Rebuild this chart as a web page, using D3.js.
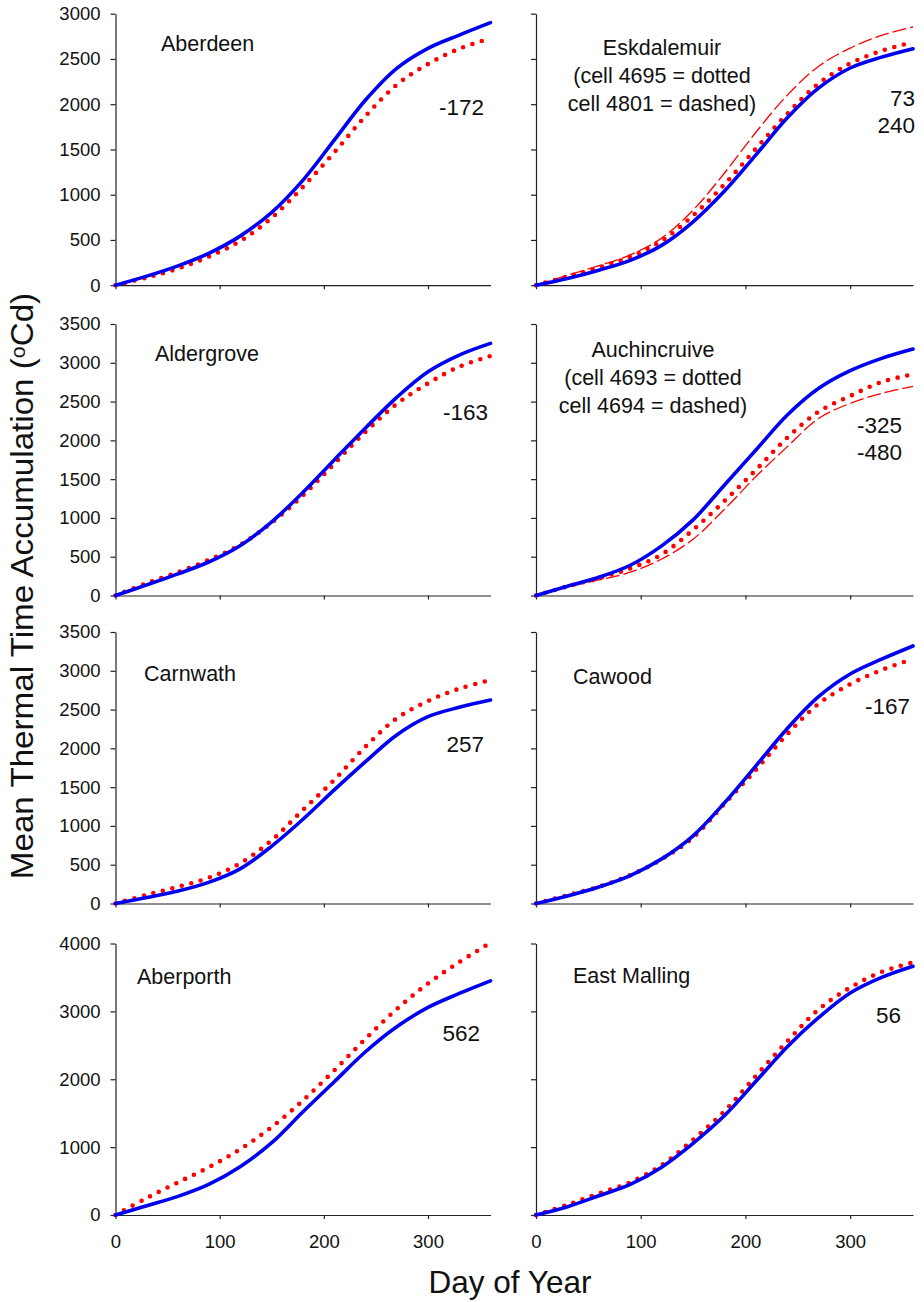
<!DOCTYPE html>
<html>
<head>
<meta charset="utf-8">
<script src="https://cdn.jsdelivr.net/npm/d3@7"></script>
<style>
body { margin: 0; background: #fff; }
svg text { font-family: "Liberation Sans", Arial, Helvetica, sans-serif; fill: #111; }
.axis path, .axis line { stroke: #222; stroke-width: 1.2; }
.axis text { font-size: 18.5px; fill: #111; }
</style>
</head>
<body>
<div id="chart-area"></div>
<script>
// Day of year at which the curves were read
var days = [0, 30, 60, 90, 120, 150, 180, 210, 240, 270, 300, 330, 360];

// solid blue = station, dotted red = grid cell, dashed red = second cell
var aberdeenStation = [0, 100, 214, 355, 545, 805, 1161, 1603, 2046, 2396, 2617, 2764, 2901];
var aberdeenCell    = [0, 85, 184, 318, 490, 745, 1087, 1467, 1869, 2215, 2444, 2613, 2729];

var eskdalemuirStation = [0, 74, 166, 275, 440, 700, 1040, 1440, 1850, 2180, 2400, 2520, 2613];
var eskdalemuirCell    = [0, 95, 195, 315, 490, 770, 1115, 1509, 1895, 2230, 2450, 2590, 2686];
var eskdalemuirCell2   = [0, 110, 215, 335, 520, 830, 1240, 1690, 2100, 2420, 2620, 2760, 2853];

var aldergroveStation = [0, 137, 279, 435, 645, 950, 1330, 1748, 2160, 2555, 2885, 3100, 3250];
var aldergroveCell    = [0, 159, 300, 462, 655, 940, 1290, 1700, 2110, 2470, 2735, 2950, 3087];

var auchincruiveStation = [0, 120, 235, 390, 640, 975, 1425, 1876, 2327, 2671, 2898, 3057, 3177];
var auchincruiveCell    = [0, 118, 223, 350, 530, 846, 1219, 1619, 2035, 2370, 2572, 2752, 2852];
var auchincruiveCell2   = [0, 112, 200, 300, 470, 726, 1112, 1533, 1919, 2284, 2477, 2606, 2697];

var carnwathStation = [0, 77, 160, 275, 450, 740, 1086, 1464, 1829, 2173, 2409, 2529, 2623];
var carnwathCell    = [0, 112, 215, 335, 520, 816, 1207, 1593, 2022, 2387, 2610, 2769, 2880];

var cawoodStation = [0, 98, 213, 360, 575, 873, 1298, 1775, 2256, 2669, 2959, 3150, 3320];
var cawoodCell    = [0, 106, 217, 365, 570, 851, 1286, 1724, 2184, 2576, 2827, 3010, 3153];

var aberporthStation = [0, 137, 275, 455, 715, 1065, 1521, 1963, 2405, 2773, 3058, 3264, 3450];
var aberporthCell    = [0, 250, 481, 707, 972, 1296, 1688, 2130, 2596, 3033, 3411, 3725, 4012];

var eastMallingStation = [0, 122, 283, 450, 705, 1056, 1465, 1970, 2480, 2910, 3270, 3500, 3665];
var eastMallingCell    = [0, 151, 317, 482, 735, 1110, 1530, 2050, 2560, 3030, 3350, 3580, 3721];

var xTicks = [0, 100, 200, 300];
var yTicks3000 = [0, 500, 1000, 1500, 2000, 2500, 3000];
var yTicks3500 = [0, 500, 1000, 1500, 2000, 2500, 3000, 3500];
var yTicks4000 = [0, 1000, 2000, 3000, 4000];

var width = 924, height = 1302;
var colX = [[115.5, 490.5], [536, 913]];
var rowTop = [13.7, 324, 632, 943.5];
var panelH = 271.5;

var panels = [
    { row: 0, col: 0, max: 3000, ticks: yTicks3000, title: ['Aberdeen'], tx: 161, ty: 51, tAnchor: 'start',
      series: [aberdeenStation, aberdeenCell], notes: ['-172'], nx: 484, ny: 115 },
    { row: 0, col: 1, max: 3000, ticks: yTicks3000,
      title: ['Eskdalemuir', '(cell 4695 = dotted', 'cell 4801 = dashed)'], tx: 662, ty: 55, tAnchor: 'middle',
      series: [eskdalemuirStation, eskdalemuirCell, eskdalemuirCell2], notes: ['73', '240'], nx: 915, ny: 106 },
    { row: 1, col: 0, max: 3500, ticks: yTicks3500, title: ['Aldergrove'], tx: 155, ty: 361, tAnchor: 'start',
      series: [aldergroveStation, aldergroveCell], notes: ['-163'], nx: 488, ny: 420 },
    { row: 1, col: 1, max: 3500, ticks: yTicks3500,
      title: ['Auchincruive', '(cell 4693 = dotted', 'cell 4694 = dashed)'], tx: 653, ty: 357, tAnchor: 'middle',
      series: [auchincruiveStation, auchincruiveCell, auchincruiveCell2], notes: ['-325', '-480'], nx: 902, ny: 433 },
    { row: 2, col: 0, max: 3500, ticks: yTicks3500, title: ['Carnwath'], tx: 144, ty: 681, tAnchor: 'start',
      series: [carnwathStation, carnwathCell], notes: ['257'], nx: 484, ny: 752 },
    { row: 2, col: 1, max: 3500, ticks: yTicks3500, title: ['Cawood'], tx: 573, ty: 684, tAnchor: 'start',
      series: [cawoodStation, cawoodCell], notes: ['-167'], nx: 910, ny: 714 },
    { row: 3, col: 0, max: 4000, ticks: yTicks4000, title: ['Aberporth'], tx: 137, ty: 984, tAnchor: 'start',
      series: [aberporthStation, aberporthCell], notes: ['562'], nx: 480, ny: 1041 },
    { row: 3, col: 1, max: 4000, ticks: yTicks4000, title: ['East Malling'], tx: 573, ty: 983, tAnchor: 'start',
      series: [eastMallingStation, eastMallingCell], notes: ['56'], nx: 901, ny: 1023 }
];

var styles = [
    { stroke: '#0000f0', width: 3.6, dash: null, cap: 'round' },
    { stroke: '#ff0000', width: 4.6, dash: '0 9.8', cap: 'round' },
    { stroke: '#ff0000', width: 1.3, dash: '14 4', cap: 'butt' }
];

var svg = d3.select('#chart-area').append('svg')
    .attr('width', width)
    .attr('height', height);

panels.forEach(function (p) {
    var x = d3.scaleLinear().domain([0, 360]).range(colX[p.col]);
    var y = d3.scaleLinear().domain([0, p.max]).range([rowTop[p.row] + panelH, rowTop[p.row]]);

    var xAxis = d3.axisBottom(x).tickValues(xTicks).tickSize(4).tickSizeOuter(0).tickPadding(16)
        .tickFormat(d3.format('d'));
    if (p.row !== 3) xAxis.tickFormat(function () { return ''; });
    svg.append('g')
        .attr('class', 'x axis')
        .attr('transform', 'translate(0,' + y(0) + ')')
        .call(xAxis);

    var yAxis = d3.axisLeft(y).tickValues(p.ticks).tickSize(5).tickSizeOuter(0).tickPadding(10)
        .tickFormat(d3.format('d'));
    if (p.col === 1) yAxis.tickFormat(function () { return ''; });
    svg.append('g')
        .attr('class', 'y axis')
        .attr('transform', 'translate(' + x(0) + ',0)')
        .call(yAxis);

    var line = d3.line()
        .x(function (d, i) { return x(days[i]); })
        .y(function (d) { return y(d); })
        .curve(d3.curveCatmullRom.alpha(0.5));

    // draw red ones first so the blue station line sits on top
    p.series.map(function (s, i) { return { s: s, st: styles[i] }; })
        .reverse()
        .forEach(function (o) {
            svg.append('path')
                .attr('d', line(o.s))
                .attr('fill', 'none')
                .attr('stroke', o.st.stroke)
                .attr('stroke-width', o.st.width)
                .attr('stroke-linecap', o.st.cap)
                .attr('stroke-linejoin', 'round')
                .attr('stroke-dasharray', o.st.dash);
        });

    p.title.forEach(function (t, i) {
        svg.append('text')
            .attr('x', p.tx)
            .attr('y', p.ty + i * 28)
            .attr('text-anchor', p.tAnchor)
            .attr('style', 'font-size: 21.5px')
            .text(t);
    });

    p.notes.forEach(function (t, i) {
        svg.append('text')
            .attr('x', p.nx)
            .attr('y', p.ny + i * 27)
            .attr('text-anchor', 'end')
            .attr('style', 'font-size: 22.5px')
            .text(t);
    });
});

// Y label
var yLabel = svg.append('text')
    .attr('transform', 'translate(33,586) rotate(-90) scale(1.07,1)')
    .attr('text-anchor', 'middle')
    .attr('style', 'font-size: 31px');
yLabel.append('tspan').text('Mean Thermal Time Accumulation (');
yLabel.append('tspan').attr('baseline-shift', '40%').attr('style', 'font-size: 20px').text('o');
yLabel.append('tspan').text('Cd)');

// X Label
svg.append('text')
    .attr('x', 510)
    .attr('y', 1293)
    .attr('text-anchor', 'middle')
    .attr('style', 'font-size: 31.5px')
    .text('Day of Year');
</script>
</body>
</html>
